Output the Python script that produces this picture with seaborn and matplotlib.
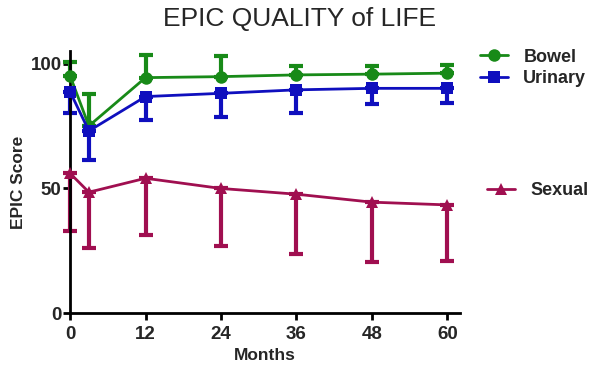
import matplotlib
matplotlib.use("Agg")
import matplotlib.pyplot as plt
from matplotlib.lines import Line2D
import seaborn as sns
import pandas as pd
import numpy as np

months = [0, 3, 12, 24, 36, 48, 60]
bowel = [95.3, 75.1, 94.5, 94.9, 95.6, 95.9, 96.3]
bowel_upper = [100.9, 87.8, 103.6, 103.3, 99.3, 99.3, 99.6]
urinary = [88.9, 73.1, 86.9, 88.2, 89.6, 90.2, 90.2]
urinary_lower = [80.2, 61.4, 77.5, 78.8, 80.4, 83.8, 84.2]
sexual = [56.1, 48.5, 54.1, 50.0, 47.7, 44.5, 43.4]
sexual_lower = [33.0, 26.0, 31.2, 27.0, 23.7, 20.6, 21.0]
series_names = ["Bowel", "Urinary", "Sexual"]
x_ticks = [0, 12, 24, 36, 48, 60]
y_ticks = [0, 50, 100]

colors = {"Bowel": "#188a18", "Urinary": "#0f0fbe", "Sexual": "#a00f50"}
markers = {"Bowel": "o", "Urinary": "s", "Sexual": "^"}

sns.set_theme(style="ticks")
plt.rcParams["font.family"] = ["Liberation Sans", "DejaVu Sans"]

df = pd.DataFrame({
    "Months": months * 3,
    "Score": bowel + urinary + sexual,
    "Series": ["Bowel"] * 7 + ["Urinary"] * 7 + ["Sexual"] * 7,
})

fig = plt.figure(figsize=(6.0, 3.72), dpi=100)
ax = fig.add_axes([0.1167, 0.1586, 0.65, 0.703])

b = np.array(bowel); u = np.array(urinary); s = np.array(sexual)
ekw = dict(fmt="none", elinewidth=3.0, capsize=5, capthick=3.0, clip_on=False, zorder=2)
ax.errorbar(months, bowel, yerr=[np.zeros(7), np.array(bowel_upper) - b],
            ecolor=colors["Bowel"], **ekw)
ax.errorbar(months, urinary, yerr=[u - np.array(urinary_lower), np.zeros(7)],
            ecolor=colors["Urinary"], **ekw)
ax.errorbar(months, sexual, yerr=[s - np.array(sexual_lower), np.zeros(7)],
            ecolor=colors["Sexual"], **ekw)

sns.lineplot(data=df, x="Months", y="Score", hue="Series", style="Series",
             palette=colors, markers=markers, dashes=False, linewidth=2.0,
             markersize=9, markeredgewidth=0, ax=ax, legend=False,
             clip_on=False, zorder=3)
for ln in ax.lines:
    ln.set_clip_on(False)

ax.set_xlim(0, 62)
ax.set_ylim(0, 105)
ax.set_xticks(x_ticks)
ax.set_yticks(y_ticks)
ax.set_xticklabels([str(t) for t in x_ticks], fontsize=13.5, fontweight="bold")
ax.set_yticklabels([str(t) for t in y_ticks], fontsize=13.5, fontweight="bold")
ax.tick_params(axis="x", direction="out", length=5, width=2, color="black", pad=4)
ax.tick_params(axis="y", direction="out", length=5, width=2, color="black", pad=1)
for side in ["left", "bottom"]:
    ax.spines[side].set_linewidth(2)
    ax.spines[side].set_color("black")
sns.despine(ax=ax)
ax.set_xlabel("Months", fontsize=12.5, fontweight="bold", labelpad=4)
ax.set_ylabel("EPIC Score", fontsize=12.5, fontweight="bold", labelpad=3)

fig.text(0.5, 0.948, "EPIC QUALITY of LIFE", ha="center", va="center", fontsize=19)

def handle(name):
    return Line2D([0], [0], color=colors[name], marker=markers[name], lw=2,
                  markersize=9, markeredgewidth=0)

leg1 = fig.legend([handle("Bowel"), handle("Urinary")], ["Bowel", "Urinary"],
                  loc="center left", bbox_to_anchor=(0.785, 0.817), frameon=False,
                  prop={"weight": "bold", "size": 13}, handlelength=1.55,
                  handletextpad=0.85, labelspacing=0.25, borderpad=0)
leg2 = fig.legend([handle("Sexual")], ["Sexual"],
                  loc="center left", bbox_to_anchor=(0.797, 0.487), frameon=False,
                  prop={"weight": "bold", "size": 13}, handlelength=1.55,
                  handletextpad=0.85, borderpad=0)

fig.savefig("out.png", dpi=100)
